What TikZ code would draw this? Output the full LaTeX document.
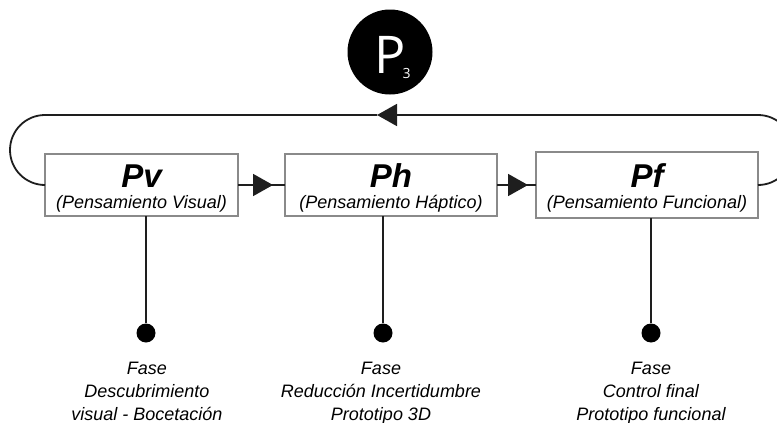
\documentclass[tikz,border=0pt]{standalone}
\usepackage{fontspec}
\setmainfont{Liberation Sans}
\newfontfamily\pfont{Open Sans}
\usetikzlibrary{arrows.meta,calc}
\definecolor{linec}{HTML}{1E1E1E}
\definecolor{boxc}{HTML}{8A8A8A}
\begin{document}
\begin{tikzpicture}[x=1pt,y=-1pt,
  stagebox/.style={draw=boxc,line width=1.4pt,fill=white,inner sep=0pt,outer sep=0pt,anchor=north west},
  conn/.style={draw=linec,line width=1.8pt},
  tip/.style={-{Triangle[length=20pt,width=22pt]}},
  dotnode/.style={circle,fill=black,inner sep=0pt,minimum size=19pt},
  ttl/.style={anchor=base,inner sep=0pt,font=\fontsize{33}{33}\selectfont\bfseries\itshape},
  sub/.style={anchor=base,inner sep=0pt,font=\fontsize{18}{18}\selectfont\itshape},
  lbl/.style={anchor=north,inner sep=0pt,align=center,font=\fontsize{18}{23}\selectfont\itshape}]
\useasboundingbox (0,0) rectangle (777,423);
\begin{scope}
\clip (0,0) rectangle (777,423);
% P3 badge
\node[circle,fill=black,inner sep=0pt,minimum size=85pt] (p3) at (390,52) {};
\node[anchor=base west,inner sep=0pt,text=white,font=\pfont\fontsize{52}{52}\selectfont] (p3p) at (374,73) {P\kern-3pt\raisebox{-5pt}{\fontsize{14}{14}\selectfont 3}};
% boxes
\node[stagebox,minimum width=193pt,minimum height=62pt] (pv) at (45,154) {};
\node[stagebox,minimum width=212pt,minimum height=62pt] (ph) at (285,154) {};
\node[stagebox,minimum width=222pt,minimum height=66pt] (pf) at (536,152) {};
% titles
\node[ttl] (pvt) at (141.5,187) {Pv};
\node[sub] (pvs) at (141.5,208) {(Pensamiento Visual)};
\node[ttl] (pht) at (391,187) {Ph};
\node[sub] (phs) at (391,208) {(Pensamiento Háptico)};
\node[ttl] (pft) at (647,187) {Pf};
\node[sub] (pfs) at (647,208) {(Pensamiento Funcional)};
% forward connectors
\draw[conn] (pv.east) -- (ph.west);
\draw[conn,tip] (pv.east) -- ($(ph.west)+(-12,0)$);
\draw[conn] (ph.east) -- (pf.west);
\draw[conn,tip] (ph.east) -- ($(pf.west)+(-8,0)$);
% feedback loop
\coordinate (loopmid) at (377,115);
\draw[conn,tip] (pf.east) arc[start angle=90,end angle=-90,radius=35] -- (loopmid);
\draw[conn] (loopmid) -- (45,115) arc[start angle=-90,end angle=-270,radius=35];
% phase dots and stems
\node[dotnode] (d1) at (146,333) {};
\node[dotnode] (d2) at (383,333) {};
\node[dotnode] (d3) at (651,333) {};
\draw[conn] (d1) -- (d1 |- pv.south);
\draw[conn] (d2) -- (d2 |- ph.south);
\draw[conn] (d3) -- (d3 |- pf.south);
% labels
\node[lbl] (l1) at (147,362) {Fase\\Descubrimiento\\visual - Bocetación};
\node[lbl] (l2) at (381,362) {Fase\\Reducción Incertidumbre\\Prototipo 3D};
\node[lbl] (l3) at (651,362) {Fase\\Control final\\Prototipo funcional};
\end{scope}
\end{tikzpicture}
\end{document}
